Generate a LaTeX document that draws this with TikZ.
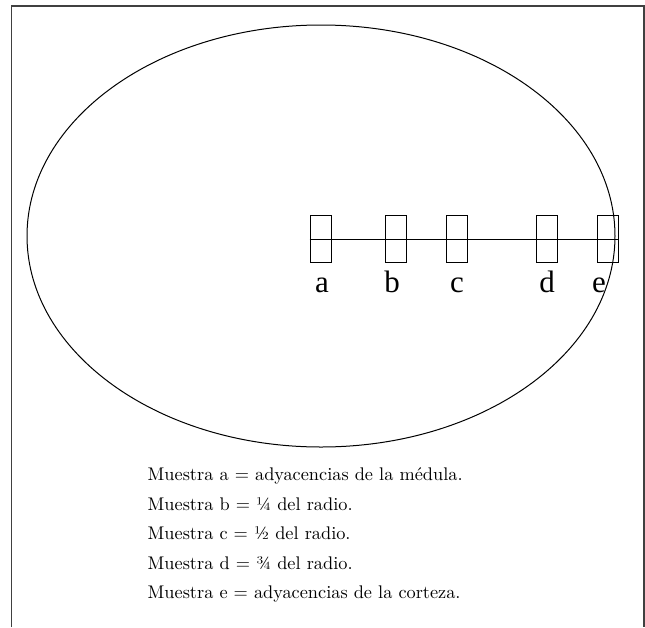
\documentclass[tikz,border=0pt]{standalone}
\usepackage{fontspec}
\setmainfont{lmroman10-regular}[Extension=.otf]
\newfontfamily\letrafont{Liberation Serif}
\usetikzlibrary{positioning}
\tikzset{
  marco/.style={draw=black!75, line width=1.3pt},
  corte/.style={draw=black, line width=1pt},
  muestra/.style={rectangle, draw=black, line width=0.9pt, minimum width=21pt,
                  minimum height=47pt, inner sep=0pt},
  radio/.style={draw=black, line width=0.9pt},
  etiq/.style={font=\letrafont\fontsize{31}{31}\selectfont, anchor=base, inner sep=0pt},
  leyenda/.style={font=\fontsize{18.3}{22}\selectfont, anchor=base west, inner sep=0pt}
}

\begin{document}
\begin{tikzpicture}[x=1pt,y=-1pt]
\useasboundingbox (0,0) rectangle (645,627);

% marco abierto abajo
\draw[marco] (11.5,627) -- (11.5,6) -- (644,6) -- (644,627);

% corte del tronco
\draw[corte] (321,236) ellipse [x radius=294pt, y radius=211pt];

% muestras
\node[muestra] (a) at (320.5,239) {};
\node[muestra] (b) at (396,239) {};
\node[muestra] (c) at (456.5,239) {};
\node[muestra] (d) at (546.5,239) {};
\node[muestra] (e) at (607.5,239) {};
\draw[radio] (a.west) -- (e.east);

\node[etiq] (la) at (322,292) {a};
\node[etiq] (lb) at (392,292) {b};
\node[etiq] (lc) at (457,292) {c};
\node[etiq] (ld) at (547,292) {d};
\node[etiq] (le) at (599,292) {e};

% leyenda
\foreach \i/\txt in {1/{Muestra a = adyacencias de la médula.},
                     2/{Muestra b = ¼ del radio.},
                     3/{Muestra c = ½ del radio.},
                     4/{Muestra d = ¾ del radio.},
                     5/{Muestra e = adyacencias de la corteza.}}
  \node[leyenda] (ley\i) at (147.5,{480.5+29.5*(\i-1)}) {\txt};

\end{tikzpicture}
\end{document}
